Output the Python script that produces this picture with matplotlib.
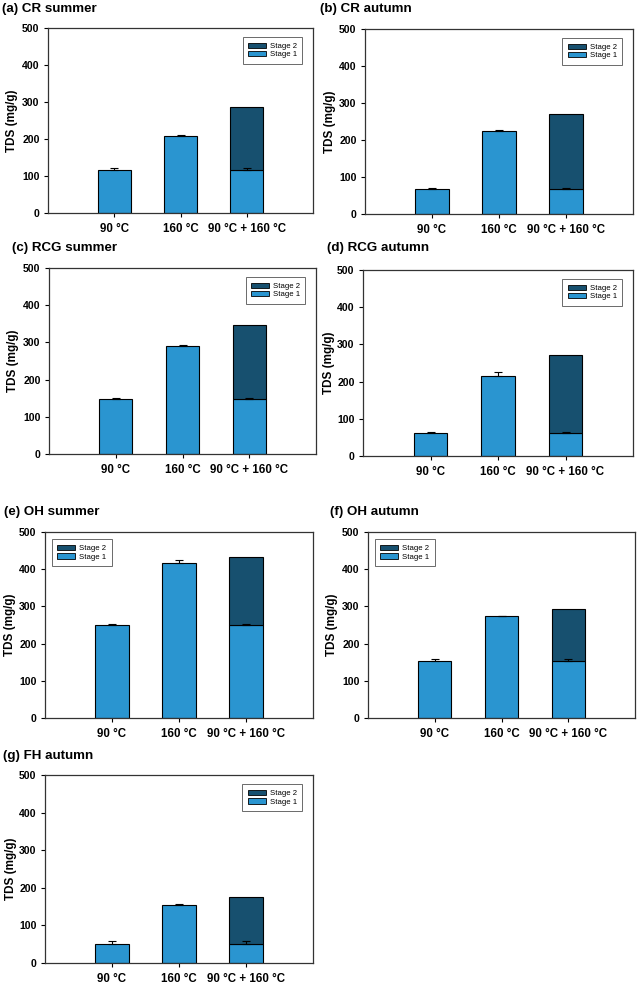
import matplotlib
matplotlib.use("Agg")
import matplotlib.pyplot as plt
from matplotlib.patches import Patch

plt.rcParams['font.family'] = ['Liberation Sans', 'DejaVu Sans']

# 数据：各子图的标题与数值 (mg/g)
titles = ["(a) CR summer", "(b) CR autumn", "(c) RCG summer", "(d) RCG autumn",
          "(e) OH summer", "(f) OH autumn", "(g) FH autumn"]
categories = ["90 °C", "160 °C", "90 °C + 160 °C"]
stage1_90 = [117, 68, 148, 61, 250, 154.5, 51.5]
stage1_90_err = [5, 2, 3, 3, 3, 3, 6]
total_160 = [209, 225, 290, 215, 416, 274, 155.5]
total_160_err = [2, 2, 3, 11, 10, 1, 2]
stage2_combo = [170, 203, 199, 210, 184, 137.5, 124.5]
legend_side = ["right", "right", "right", "right", "left", "left", "right"]

# 像素位置 (left, top, right, bottom)、标题位置、y 轴标签中心
W, H = 638, 985
axes_px = [(48, 28, 313, 213), (365, 29, 633, 214),
           (49, 268, 316, 454), (363, 270, 633, 456),
           (45, 532, 313, 718), (368, 532, 635, 718),
           (45, 775, 313, 963)]
title_px = [(2, 9), (320, 9), (12, 248), (327, 248), (4, 512), (330, 512), (3, 756)]
ylabel_x = [12, 330, 13, 329, 10, 332, 11]

c1 = "#2a95d0"
c2 = "#17506f"

fig = plt.figure(figsize=(W / 100, H / 100), dpi=100)

for i in range(len(titles)):
    l, t, r, b = axes_px[i]
    ax = fig.add_axes([l / W, 1 - b / H, (r - l) / W, (b - t) / H])
    x = [1, 2, 3]
    s1 = [stage1_90[i], total_160[i], stage1_90[i]]
    ax.bar(x, s1, width=0.5, color=c1, edgecolor="black", linewidth=0.8, zorder=2)
    ax.bar(x[2], stage2_combo[i], bottom=s1[2], width=0.5, color=c2, edgecolor="black",
           linewidth=0.8, zorder=2)
    errs = [stage1_90_err[i], total_160_err[i], stage1_90_err[i]]
    ax.errorbar(x, s1, yerr=[[0, 0, 0], errs], fmt="none", ecolor="black",
                elinewidth=0.8, capsize=3, capthick=0.8, zorder=3)

    ax.set_xlim(0, 4)
    ax.set_ylim(0, 500)
    ax.set_yticks([0, 100, 200, 300, 400, 500])
    ax.set_xticks(x)
    ax.set_xticklabels(categories, fontsize=8.3, fontweight="bold")
    for lab in ax.get_yticklabels():
        lab.set_fontsize(7.6)
        lab.set_fontweight("bold")
    ax.tick_params(axis="both", direction="out", length=3, width=0.8)
    ax.tick_params(axis="x", pad=4)
    ax.tick_params(axis="y", pad=3)
    for sp in ax.spines.values():
        sp.set_linewidth(0.9)
        sp.set_color("#333333")
    ax.set_ylabel("TDS (mg/g)", fontsize=8.4, fontweight="bold")
    ax.yaxis.set_label_coords((ylabel_x[i] + 6) / W, 1 - (t + b) / 2 / H,
                              transform=fig.transFigure)

    handles = [Patch(facecolor=c2, edgecolor="black", linewidth=0.6, label="Stage 2"),
               Patch(facecolor=c1, edgecolor="black", linewidth=0.6, label="Stage 1")]
    if legend_side[i] == "right":
        loc, anchor = "upper right", (0.96, 0.95)
    else:
        loc, anchor = "upper left", (0.026, 0.96)
    leg = ax.legend(handles=handles, loc=loc, bbox_to_anchor=anchor, fontsize=5.6,
                    frameon=True, fancybox=False, borderpad=0.7, handlelength=2.3,
                    handleheight=0.7, labelspacing=0.1, handletextpad=0.5,
                    borderaxespad=0)
    leg.get_frame().set_edgecolor("#444444")
    leg.get_frame().set_linewidth(0.7)

    tx, ty = title_px[i]
    fig.text(tx / W, 1 - ty / H, titles[i], fontsize=9.6, fontweight="bold",
             ha="left", va="center")

fig.savefig("out.png", dpi=100)
